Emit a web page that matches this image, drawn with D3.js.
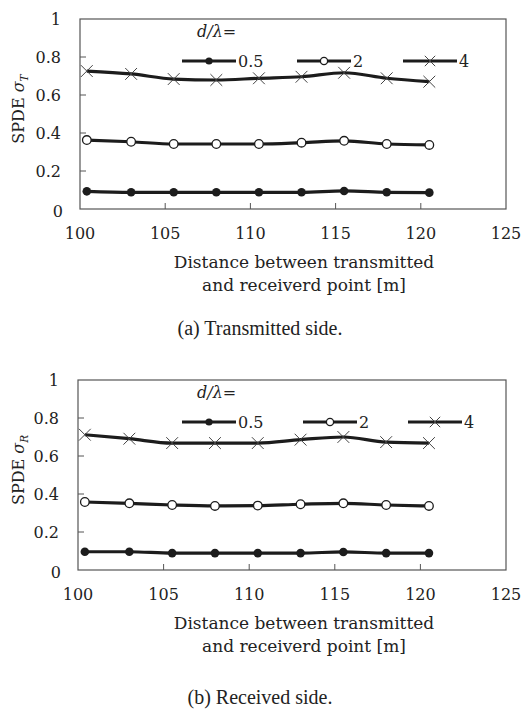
<!DOCTYPE html>
<html>
<head>
<meta charset="utf-8">
<script src="https://cdn.jsdelivr.net/npm/d3@7"></script>
<style>
  body { margin: 0; background: #fff; }
  svg { display: block; }
</style>
</head>
<body>
<div id="chartArea"></div>
<script>
// data
const distance = [100.4, 103, 105.5, 108, 110.5, 113, 115.5, 118, 120.5];
const seriesNames = ["0.5", "2", "4"];
const markers = ["dot", "ring", "cross"];

const txSide05 = [0.093, 0.088, 0.088, 0.088, 0.088, 0.088, 0.095, 0.088, 0.086];
const txSide2  = [0.363, 0.354, 0.342, 0.342, 0.342, 0.349, 0.359, 0.342, 0.337];
const txSide4  = [0.726, 0.711, 0.684, 0.679, 0.688, 0.696, 0.717, 0.688, 0.670];

const rxSide05 = [0.096, 0.096, 0.089, 0.089, 0.089, 0.089, 0.095, 0.089, 0.089];
const rxSide2  = [0.358, 0.351, 0.342, 0.337, 0.339, 0.346, 0.351, 0.342, 0.337];
const rxSide4  = [0.712, 0.691, 0.668, 0.668, 0.668, 0.686, 0.700, 0.673, 0.668];

const xTicks = [100, 105, 110, 115, 120, 125];
const yTicks = [0, 0.2, 0.4, 0.6, 0.8, 1];

const W = 530, H = 711;
let svg = d3.select('#chartArea').append('svg')
   .attr('width', W)
   .attr('height', H);

const serif = "'DejaVu Serif', serif";
const ink = "#1c1c1c";

function drawPanel(top, left, sub, legX, caption, series) {
   const x = d3.scaleLinear().domain([100, 125]).range([left, 506]);
   const y = d3.scaleLinear().domain([0, 1]).range([top + 190, top]);
   const g = svg.append('g');

   // frame
   g.append('rect')
      .attr('x', x(100)).attr('y', y(1))
      .attr('width', x(125) - x(100)).attr('height', y(0) - y(1))
      .attr('fill', 'none').attr('stroke', '#555').attr('stroke-width', 1.2);

   // inner ticks
   g.selectAll('line.yt').data(yTicks.slice(1, -1)).enter().append('line')
      .attr('x1', x(100)).attr('x2', x(100) + 6)
      .attr('y1', d => y(d)).attr('y2', d => y(d))
      .attr('stroke', '#555');
   g.selectAll('line.xt').data(xTicks.slice(1, -1)).enter().append('line')
      .attr('x1', d => x(d)).attr('x2', d => x(d))
      .attr('y1', y(0)).attr('y2', y(0) - 6)
      .attr('stroke', '#555');

   // tick labels
   g.selectAll('text.yl').data(yTicks).enter().append('text')
      .attr('x', d => d === 0 ? x(100) - 17 : x(100) - 19)
      .attr('y', d => y(d) + (d === 0 ? 8 : 6))
      .attr('text-anchor', 'end')
      .attr('font-family', serif).attr('font-size', 16).attr('fill', '#222')
      .text(d => d3.format('~g')(d));
   g.selectAll('text.xl').data(xTicks).enter().append('text')
      .attr('x', d => x(d))
      .attr('y', y(0) + 30)
      .attr('text-anchor', 'middle')
      .attr('font-family', serif).attr('font-size', 16).attr('fill', '#222')
      .text(d => d);

   // axis titles
   const xt = g.append('text')
      .attr('x', 304).attr('y', y(0) + 59)
      .attr('text-anchor', 'middle')
      .attr('font-family', serif).attr('font-size', 17).attr('fill', '#222');
   xt.append('tspan').attr('x', 304).text('Distance between transmitted');
   xt.append('tspan').attr('x', 304).attr('dy', 23).text('and receiverd point [m]');

   const yt = g.append('text')
      .attr('transform', `translate(24,${top + 90}) rotate(-90)`)
      .attr('text-anchor', 'middle')
      .attr('font-family', serif).attr('font-size', 16).attr('fill', '#222');
   yt.append('tspan').text('SPDE ');
   yt.append('tspan').attr('font-style', 'italic').text('σ');
   yt.append('tspan').attr('font-style', 'italic').attr('font-size', 10.5)
      .attr('dy', 4).text(sub);

   // lines
   const line = d3.line()
      .x((d, i) => x(distance[i]))
      .y(d => y(d))
      .curve(d3.curveMonotoneX);

   series.forEach((vals, k) => {
      g.append('path')
         .attr('d', line(vals))
         .attr('fill', 'none')
         .attr('stroke', ink).attr('stroke-width', 3.2)
         .attr('stroke-linejoin', 'round');
      drawMarkers(g, markers[k], vals.map((v, i) => [x(distance[i]), y(v)]), 4.3);
   });

   // legend
   const lg = g.append('g');
   lg.append('text')
      .attr('x', 197).attr('y', top + 18)
      .attr('font-family', serif).attr('font-size', 16).attr('font-style', 'italic')
      .attr('fill', '#222')
      .text('d/λ=');
   const ly = top + 42;
   seriesNames.forEach((name, k) => {
      const x0 = legX[k], x1 = x0 + 54;
      lg.append('line')
         .attr('x1', x0).attr('x2', x1).attr('y1', ly).attr('y2', ly)
         .attr('stroke', ink).attr('stroke-width', 3.2);
      drawMarkers(lg, markers[k], [[(x0 + x1) / 2, ly]], 3.6);
      lg.append('text')
         .attr('x', x1 + 2).attr('y', ly + 6)
         .attr('font-family', serif).attr('font-size', 16).attr('fill', '#222')
         .text(name);
   });

   // caption
   svg.append('text')
      .attr('x', 260).attr('y', caption.y)
      .attr('text-anchor', 'middle')
      .attr('font-family', "'Liberation Serif', serif").attr('font-size', 20)
      .attr('fill', '#222')
      .text(caption.text);
}

function drawMarkers(g, kind, pts, r) {
   if (kind === 'dot') {
      g.selectAll(null).data(pts).enter().append('circle')
         .attr('cx', d => d[0]).attr('cy', d => d[1]).attr('r', r)
         .attr('fill', ink);
   } else if (kind === 'ring') {
      g.selectAll(null).data(pts).enter().append('circle')
         .attr('cx', d => d[0]).attr('cy', d => d[1]).attr('r', r)
         .attr('fill', '#fff').attr('stroke', ink).attr('stroke-width', 1.3);
   } else {
      const s = r + 1.6;
      g.selectAll(null).data(pts).enter().append('path')
         .attr('d', d => `M${d[0]-s},${d[1]-s}L${d[0]+s},${d[1]+s}M${d[0]-s},${d[1]+s}L${d[0]+s},${d[1]-s}`)
         .attr('stroke', '#444').attr('stroke-width', 1);
   }
}

drawPanel(19, 80, 'T', [182, 297, 403], { text: '(a) Transmitted side.', y: 335 }, [txSide05, txSide2, txSide4]);
drawPanel(380, 78, 'R', [182, 303, 408], { text: '(b) Received side.', y: 704 }, [rxSide05, rxSide2, rxSide4]);
</script>
</body>
</html>
